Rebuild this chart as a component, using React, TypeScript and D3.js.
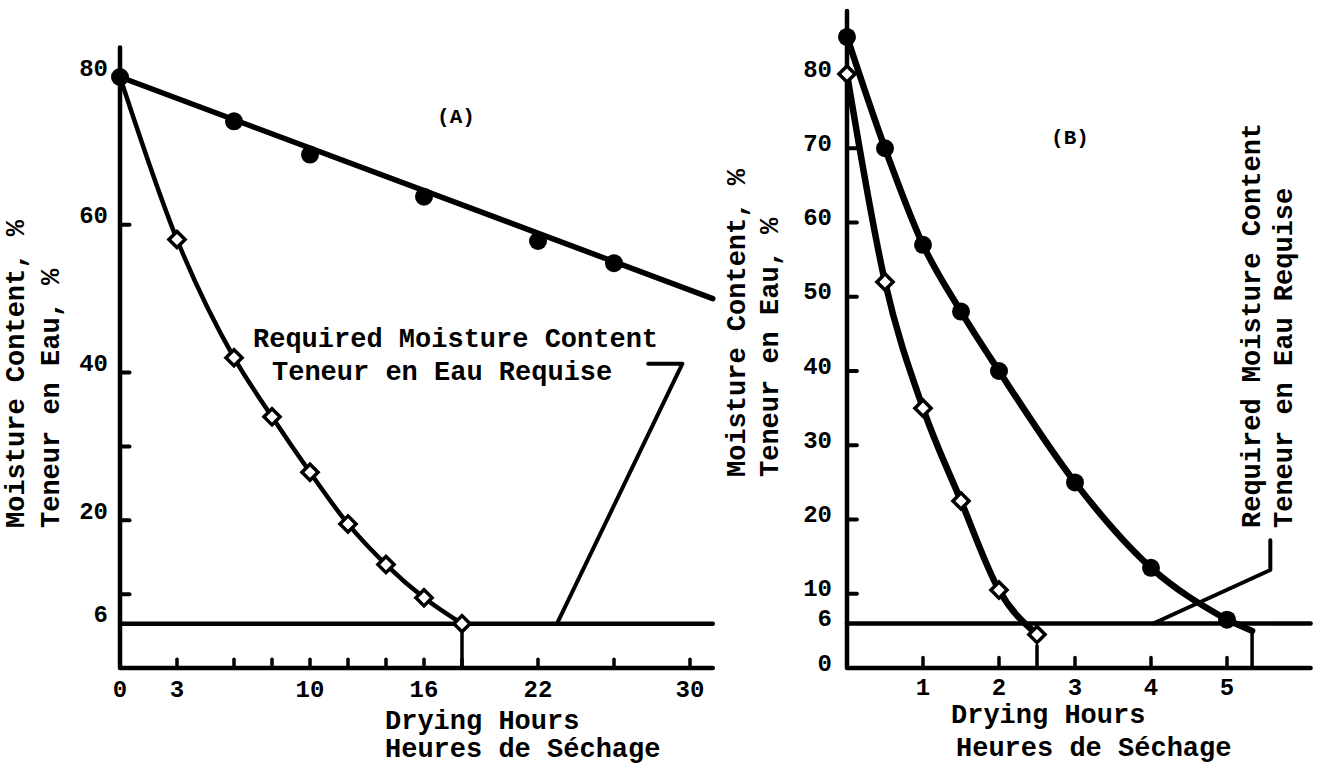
import React, { useEffect, useRef } from "react";
import * as d3 from "d3";

// ---- panel A : drying hours vs moisture content ----
const hoursOpenA = [0, 3, 6, 8, 10, 12, 14, 16, 18];
const moistOpenA = [80, 58, 42, 34, 26.5, 19.5, 14, 9.5, 6];
const hoursFilledA = [0, 6, 10, 16, 22, 26];
const moistFilledA = [80, 74, 69.5, 63.8, 57.8, 54.8];
const fitHoursA = [0, 31.2];
const fitMoistA = [80, 50];
const xTicksA = [3, 6, 8, 10, 12, 14, 16, 18, 22, 26, 30];
const xLabelsA = [0, 3, 10, 16, 22, 30];
const yTicksA = [10, 20, 30, 40, 60];
const yLabelsA = [80, 60, 40, 20, 6];
const noteHoursA = [27.8, 29.6, 23];
const noteMoistA = [41.2, 41.2, 6];

// ---- panel B ----
const hoursOpenB = [0, 0.5, 1, 1.5, 2, 2.5];
const moistOpenB = [80, 52, 35, 22.5, 10.5, 4.5];
const hoursFilledB = [0, 0.5, 1, 1.5, 2, 3, 4, 5];
const moistFilledB = [85, 70, 57, 48, 40, 25, 13.5, 6.5];
const tailHoursB = [5, 5.33];
const tailMoistB = [6.5, 5];
const xTicksB = [1, 2, 3, 4, 5];
const yTicksB = [10, 20, 30, 40, 50, 60, 70];
const yLabelsB = [80, 70, 60, 50, 40, 30, 20, 10, 6, 0];
const noteHoursB = [5.57, 5.57, 4.03];
const noteMoistB = [17.2, 13.2, 6];

const required = 6;
const FONT = "'Liberation Mono', 'DejaVu Sans Mono', monospace";

export default function App() {
  const svgRef = useRef<SVGSVGElement>(null);

  useEffect(() => {
    const svg = d3.select(svgRef.current);
    svg.selectAll("*").remove();
    svg.append("rect").attr("width", 1320).attr("height", 768).attr("fill", "white");

    const zip = (xs: number[], ys: number[]) => xs.map((x, i) => [x, ys[i]] as [number, number]);

    const txt = (g: any, x: number, y: number, s: string, size: number, anchor = "start", rot = false) =>
      g.append("text")
        .attr("transform", rot ? `translate(${x},${y}) rotate(-90)` : `translate(${x},${y})`)
        .attr("text-anchor", anchor)
        .attr("dominant-baseline", "central")
        .style("font-family", FONT)
        .style("font-weight", "bold")
        .style("font-size", size + "px")
        .attr("fill", "#000")
        .text(s);

    const line = (g: any, pts: [number, number][], x: any, y: any, w: number, curve: any = d3.curveLinear) =>
      g.append("path")
        .attr("d", d3.line<[number, number]>().x(d => x(d[0])).y(d => y(d[1])).curve(curve)(pts))
        .attr("fill", "none")
        .attr("stroke", "#000")
        .attr("stroke-width", w)
        .attr("stroke-linejoin", "round")
        .attr("stroke-linecap", "round");

    const diamonds = (g: any, pts: [number, number][], x: any, y: any) =>
      g.selectAll(null).data(pts).join("path")
        .attr("d", d3.symbol(d3.symbolSquare, 130)())
        .attr("transform", (d: any) => `translate(${x(d[0])},${y(d[1])}) rotate(45)`)
        .attr("fill", "#fff")
        .attr("stroke", "#000")
        .attr("stroke-width", 3.5);

    const dots = (g: any, pts: [number, number][], x: any, y: any, r: number) =>
      g.selectAll(null).data(pts).join("circle")
        .attr("cx", (d: any) => x(d[0]))
        .attr("cy", (d: any) => y(d[1]))
        .attr("r", r)
        .attr("fill", "#000");

    // ================= Panel A =================
    const xA = d3.scaleLinear().domain([0, 30]).range([120, 690]);
    const yA = d3.scaleLinear().domain([0, 80]).range([668, 77]);
    const gA = svg.append("g");

    // axes
    line(gA, [[0, 84], [0, 0], [31.2, 0]], xA, yA, 4.5);
    line(gA, [[0, required], [31.2, required]], xA, yA, 4.5);
    yTicksA.forEach(v => line(gA, [[0, v], [0.5, v]], xA, yA, 4));
    xTicksA.forEach(t => line(gA, [[t, 0], [t, 1.2]], xA, yA, 3.5));
    line(gA, [[18, 0], [18, required]], xA, yA, 3.5);
    yLabelsA.forEach(v => txt(gA, 108, yA(v) - 8, String(v), 24, "end"));
    xLabelsA.forEach(t => txt(gA, xA(t), 690, String(t), 24, "middle"));

    // titles
    txt(gA, 17, 528, "Moisture Content, %", 27, "start", true);
    txt(gA, 52, 528, "Teneur en Eau, %", 27, "start", true);
    txt(gA, 385, 722, "Drying Hours", 27);
    txt(gA, 385, 750, "Heures de Séchage", 27);
    txt(gA, 456, 117, "(A)", 21, "middle");

    // annotation
    line(gA, zip(noteHoursA, noteMoistA), xA, yA, 4);
    txt(gA, 253, 340, "Required Moisture Content", 27);
    txt(gA, 272, 373, "Teneur en Eau Requise", 27);

    // data
    line(gA, zip(fitHoursA, fitMoistA), xA, yA, 5.5);
    line(gA, zip(hoursOpenA, moistOpenA), xA, yA, 4.5, d3.curveMonotoneX);
    diamonds(gA, zip(hoursOpenA, moistOpenA).slice(1), xA, yA);
    dots(gA, zip(hoursFilledA, moistFilledA), xA, yA, 9);

    // ================= Panel B =================
    const xB = d3.scaleLinear().domain([0, 5]).range([847, 1227]);
    const yB = d3.scaleLinear().domain([0, 80]).range([668, 74]);
    const gB = svg.append("g");

    line(gB, [[0, 88.5], [0, 0], [6.1, 0]], xB, yB, 4.5);
    line(gB, [[0, required], [6.1, required]], xB, yB, 4.5);
    yTicksB.forEach(v => line(gB, [[0, v], [0.13, v]], xB, yB, 4));
    xTicksB.forEach(t => line(gB, [[t, 0], [t, 1.4]], xB, yB, 3.5));
    line(gB, [[2.5, 0], [2.5, 3]], xB, yB, 3.5);
    line(gB, [[5.33, 0], [5.33, 5]], xB, yB, 3.5);
    yLabelsB.forEach(v => txt(gB, 832, yB(v) - 4, String(v), 24, "end"));
    xTicksB.forEach(t => txt(gB, xB(t), 688, String(t), 24, "middle"));

    txt(gB, 738, 477, "Moisture Content, %", 27, "start", true);
    txt(gB, 771, 477, "Teneur en Eau, %", 27, "start", true);
    txt(gB, 951, 716, "Drying Hours", 27);
    txt(gB, 956, 749, "Heures de Séchage", 27);
    txt(gB, 1070, 138, "(B)", 21, "middle");

    line(gB, zip(noteHoursB, noteMoistB), xB, yB, 4);
    txt(gB, 1253, 528, "Required Moisture Content", 27, "start", true);
    txt(gB, 1285, 528, "Teneur en Eau Requise", 27, "start", true);

    line(gB, zip(hoursFilledB, moistFilledB), xB, yB, 6.5, d3.curveMonotoneX);
    line(gB, zip(tailHoursB, tailMoistB), xB, yB, 6.5);
    line(gB, zip(hoursOpenB, moistOpenB), xB, yB, 6.5, d3.curveMonotoneX);
    diamonds(gB, zip(hoursOpenB, moistOpenB), xB, yB);
    dots(gB, zip(hoursFilledB, moistFilledB), xB, yB, 9);
  }, []);

  return (
    <svg
      ref={svgRef}
      width={1320}
      height={768}
      style={{ position: "absolute", left: 0, top: 0 }}
    />
  );
}
